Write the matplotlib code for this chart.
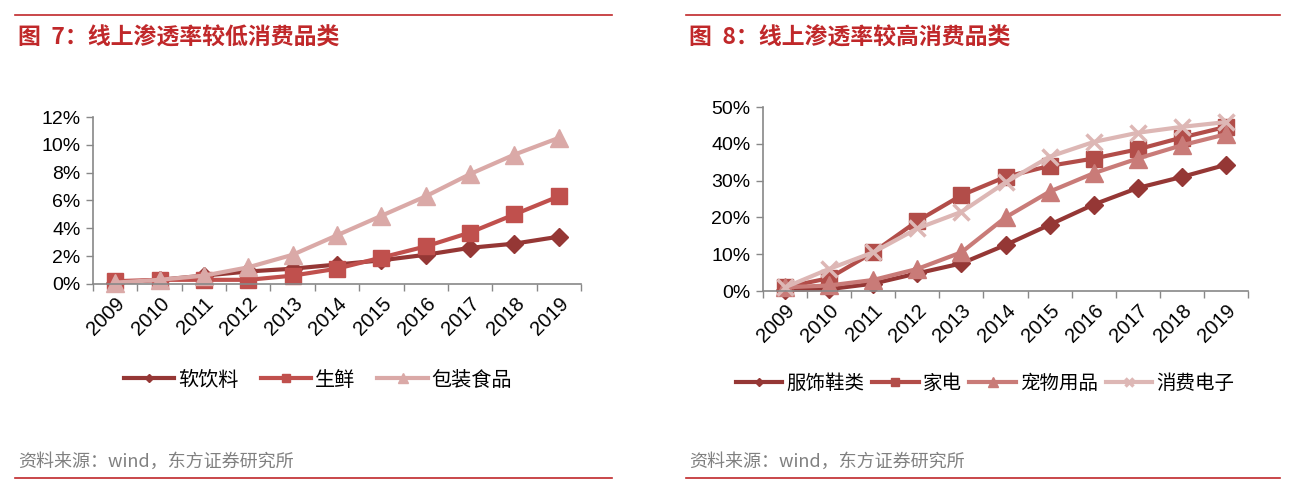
import numpy as np
import matplotlib
matplotlib.use('Agg')
import matplotlib.pyplot as plt
from matplotlib.lines import Line2D

plt.rcParams['font.family'] = ['Liberation Sans', 'Noto Sans CJK SC', 'DejaVu Sans']

years = ['2009', '2010', '2011', '2012', '2013', '2014', '2015', '2016', '2017', '2018', '2019']

# 图7 线上渗透率较低 (%)
soft_drink = [0.1, 0.3, 0.6, 0.9, 1.1, 1.4, 1.7, 2.1, 2.6, 2.9, 3.4]
fresh = [0.2, 0.3, 0.3, 0.3, 0.6, 1.1, 1.9, 2.7, 3.7, 5.0, 6.3]
packaged = [0.1, 0.3, 0.6, 1.2, 2.1, 3.5, 4.9, 6.3, 7.9, 9.3, 10.5]

# 图8 线上渗透率较高 (%)
apparel = [0.3, 0.5, 2.0, 4.8, 7.5, 12.5, 18.0, 23.5, 28.0, 31.0, 34.3]
appliance = [1.0, 3.5, 10.5, 19.0, 26.0, 31.0, 34.0, 36.0, 38.5, 41.7, 44.6]
pet = [1.0, 1.5, 3.0, 6.0, 10.5, 20.0, 27.0, 32.0, 36.0, 39.6, 42.6]
electronics = [1.0, 6.0, 10.5, 17.0, 21.5, 29.5, 36.5, 40.5, 43.0, 44.6, 45.9]

red = '#C0282A'
cjk = ['Noto Sans CJK SC', 'DejaVu Sans']

fig = plt.figure(figsize=(12.96, 4.9), dpi=100)


def setup_axes(ax, ymax, ystep):
    x = np.arange(len(years))
    ax.set_xlim(-0.5, len(years) - 0.5)
    ax.set_ylim(0, ymax)
    ax.set_yticks(np.arange(0, ymax + 0.01, ystep))
    ax.set_yticklabels(['%d%%' % v for v in np.arange(0, ymax + 0.01, ystep)])
    ax.set_xticks(np.arange(-0.5, len(years)), minor=False)
    ax.set_xticklabels([])
    ax.set_xticks(x, minor=True)
    ax.set_xticklabels(years, minor=True, rotation=45, ha='right', va='top',
                       rotation_mode='anchor', fontsize=14.5)
    ax.tick_params(axis='x', which='minor', length=0, pad=7)
    ax.tick_params(axis='x', which='major', length=5, color='#888888', width=1)
    ax.tick_params(axis='y', length=5, color='#888888', width=1, labelsize=14, pad=4)
    for s in ['top', 'right']:
        ax.spines[s].set_visible(False)
    for s in ['left', 'bottom']:
        ax.spines[s].set_color('#888888')
        ax.spines[s].set_linewidth(1.2)
    return x


# 左图
ax1 = fig.add_axes([93 / 1296, 1 - 284 / 490, 488 / 1296, 167 / 490])
x = setup_axes(ax1, 12, 2)
ax1.plot(x, soft_drink, color='#953735', lw=3, marker='D', ms=9, label='软饮料', clip_on=False)
ax1.plot(x, fresh, color='#C0504D', lw=3, marker='s', ms=11, label='生鲜', clip_on=False)
ax1.plot(x, packaged, color='#DAA9A7', lw=3, marker='^', ms=13, label='包装食品', clip_on=False)
ax1.legend(loc='center', bbox_to_anchor=(318 / 1296, 1 - 380 / 490), bbox_transform=fig.transFigure,
           ncol=3, frameon=False, prop={'family': cjk, 'size': 14.5}, markerscale=0.5,
           handlelength=2.5, handletextpad=0.2, columnspacing=1.1)

# 右图
ax2 = fig.add_axes([763 / 1296, 1 - 291 / 490, 485 / 1296, 184 / 490])
x = setup_axes(ax2, 50, 10)
ax2.plot(x, apparel, color='#953735', lw=3, marker='D', ms=9, label='服饰鞋类', clip_on=False)
ax2.plot(x, appliance, color='#B24D49', lw=3, marker='s', ms=11, label='家电', clip_on=False)
ax2.plot(x, pet, color='#C97B78', lw=3, marker='^', ms=13, label='宠物用品', clip_on=False)
ax2.plot(x, electronics, color='#DDB7B5', lw=3, marker='x', ms=12, mew=2.5, label='消费电子', clip_on=False)
ax2.legend(loc='center', bbox_to_anchor=(985 / 1296, 1 - 383 / 490), bbox_transform=fig.transFigure,
           ncol=4, frameon=False, prop={'family': cjk, 'size': 14}, markerscale=0.5,
           handlelength=2.4, handletextpad=0.2, columnspacing=0.4)

# 标题、来源和分隔线
for x0, x1, title in [(15, 612, '图  7：线上渗透率较低消费品类'), (686, 1280, '图  8：线上渗透率较高消费品类')]:
    fig.add_artist(Line2D([x0 / 1296, x1 / 1296], [1 - 15 / 490, 1 - 15 / 490], color=red, lw=1.2))
    fig.add_artist(Line2D([x0 / 1296, x1 / 1296], [1 - 478 / 490, 1 - 478 / 490], color=red, lw=1.2))
    fig.text((x0 + 3) / 1296, 1 - 38 / 490, title, color=red, fontsize=16.5, fontweight='bold',
             family=cjk, va='center', ha='left')
    fig.text((x0 + 3) / 1296, 1 - 462 / 490, '资料来源：wind，东方证券研究所', color='#808080',
             fontsize=13, family=cjk, va='center', ha='left')

fig.savefig('out.png', dpi=100)
